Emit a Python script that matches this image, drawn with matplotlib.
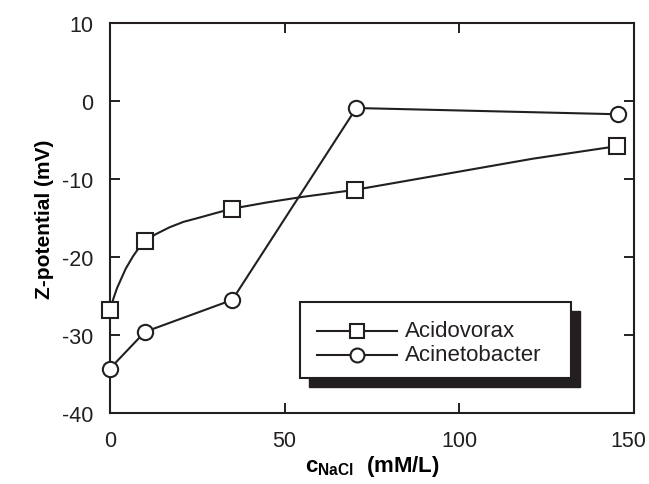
import matplotlib
matplotlib.use("Agg")
import matplotlib.pyplot as plt
import matplotlib.transforms as mtransforms
from matplotlib.patches import Rectangle

plt.rcParams["font.family"] = ["Liberation Sans", "DejaVu Sans"]
plt.rcParams["mathtext.fontset"] = "custom"
plt.rcParams["mathtext.bf"] = "Liberation Sans:bold"
plt.rcParams["mathtext.rm"] = "Liberation Sans"
plt.rcParams["axes.unicode_minus"] = False

# measured points
acido_x = [0, 10, 35, 70, 145]
acido_y = [-26.8, -18.0, -13.8, -11.4, -5.8]
acine_x = [0, 10, 35, 70.5, 145.5]
acine_y = [-34.3, -29.6, -25.5, -0.9, -1.7]

# fitted curve through Acidovorax
fit_x = [0, 1, 2, 3, 4.5, 6.6, 8, 10, 13, 17, 21, 26, 30, 35, 45, 55, 70, 93, 121, 145]
fit_y = [-26.8, -25.3, -24.0, -23.0, -21.5, -19.9, -19.0, -18.0, -17.1, -16.2,
         -15.5, -14.9, -14.4, -13.8, -13.0, -12.3, -11.4, -9.6, -7.4, -5.8]

xticks = [0, 50, 100, 150]
yticks = [-40, -30, -20, -10, 0, 10]
labels = ["Acidovorax", "Acinetobacter"]

fig = plt.figure(figsize=(6.49, 4.85), dpi=100)
ax = fig.add_axes([110 / 649, 71 / 485, 524 / 649, 390 / 485])

ink = "#231f20"
mk = dict(markersize=11, markerfacecolor="white", markeredgecolor=ink,
          markeredgewidth=1.5, clip_on=False, zorder=3)
ax.plot(fit_x, fit_y, color=ink, lw=1.5, clip_on=False, zorder=2)
ax.plot(acido_x, acido_y, ls="none", marker="s", **mk)
ax.plot(acine_x, acine_y, color=ink, lw=1.5, marker="o", **mk)

ax.set_xlim(0, 150)
ax.set_ylim(-40, 10)
ax.set_xticks(xticks)
ax.set_yticks(yticks)
ax.tick_params(direction="in", length=7, width=1.4, top=True, right=True,
               labelsize=15.5, colors=ink)
ax.tick_params(axis="y", pad=12)
ax.tick_params(axis="x", pad=12)
for s in ax.spines.values():
    s.set_linewidth(1.5)
    s.set_color(ink)

# last x label sits a little left so it stays inside the figure
last = ax.get_xticklabels()[-1]
last.set_transform(last.get_transform() +
                   mtransforms.ScaledTranslation(-6 / 100, 0, fig.dpi_scale_trans))

ax.set_ylabel("Z-potential (mV)", fontsize=15, fontweight="bold", labelpad=6)
ax.set_xlabel(r"$\mathbf{c_{NaCl}}$  (mM/L)", fontsize=16, fontweight="bold",
              labelpad=2)

# legend box with drop shadow
def px(x, y):
    return (x - 110) / 524, (414 - y) / 390

x0, y0 = px(300, 379)
x1, y1 = px(571, 303)
dx, dy = 9 / 524, 9 / 390
ax.add_patch(Rectangle((x0 + dx, y0 - dy), x1 - x0, y1 - y0, transform=ax.transAxes,
                       facecolor=ink, edgecolor=ink, zorder=5, clip_on=False))
ax.add_patch(Rectangle((x0, y0), x1 - x0, y1 - y0, transform=ax.transAxes,
                       facecolor="white", edgecolor=ink, lw=1.5, zorder=6,
                       clip_on=False))
for i, (lab, m) in enumerate(zip(labels, ["s", "o"])):
    lx0, ly = px(317, 332 + 24 * i)
    lx1, _ = px(397, 0)
    mx, _ = px(357, 0)
    ax.plot([lx0, lx1], [ly, ly], color=ink, lw=1.5, transform=ax.transAxes,
            zorder=7, clip_on=False)
    ax.plot([mx], [ly], marker=m, transform=ax.transAxes, markersize=10,
            markerfacecolor="white", markeredgecolor=ink, markeredgewidth=1.5,
            zorder=8, clip_on=False)
    tx, _ = px(405, 0)
    ax.text(tx, ly, lab, transform=ax.transAxes, fontsize=16, va="center",
            ha="left", color=ink, zorder=8)

fig.savefig("out.png", dpi=100)
